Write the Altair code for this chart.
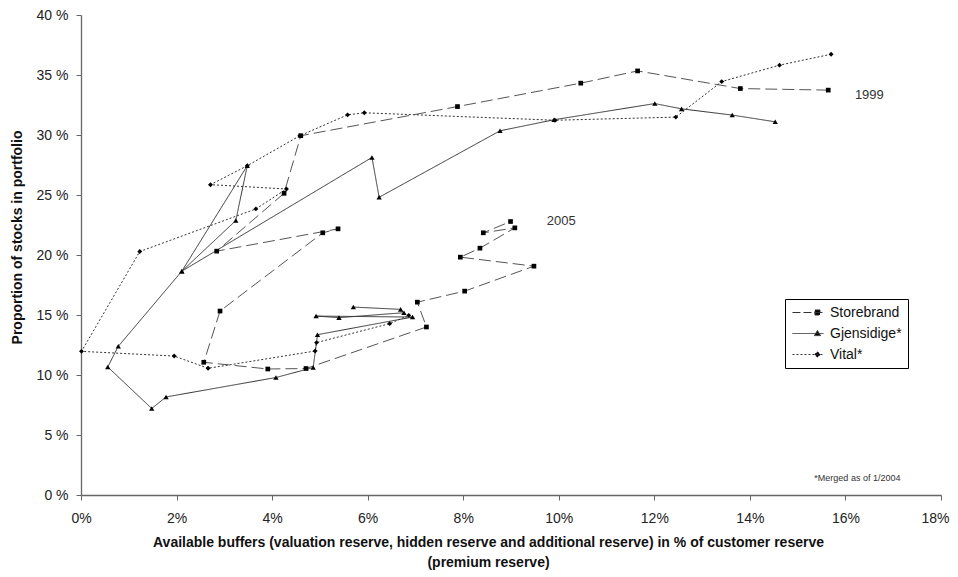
import altair as alt
import pandas as pd

# ---- data (x: buffers %, y: stocks %) ----
series_names = ["Storebrand", "Gjensidige*", "Vital*"]

sb_x = [15.64, 13.80, 11.65, 10.46, 7.88, 4.60, 4.25, 2.84, 5.38, 5.06, 2.91, 2.57,
        3.91, 4.71, 7.23, 7.04, 8.03, 9.48, 7.94, 8.35, 9.08, 8.42, 8.99]
sb_y = [33.74, 33.87, 35.34, 34.32, 32.37, 29.94, 25.14, 20.32, 22.18, 21.85, 15.33, 11.06,
        10.50, 10.54, 14.00, 16.07, 16.99, 19.07, 19.82, 20.57, 22.26, 21.85, 22.79]

gj_x = [14.53, 13.63, 12.57, 12.01, 9.90, 8.77, 6.24, 6.09, 2.11, 3.48, 3.24, 2.11, 0.78,
        0.56, 1.48, 1.78, 4.08, 4.86, 4.95, 6.94, 4.92, 5.40, 6.76, 6.69, 5.70]
gj_y = [31.10, 31.66, 32.18, 32.62, 31.27, 30.35, 24.81, 28.13, 18.65, 27.44, 22.87, 18.65, 12.39,
        10.67, 7.21, 8.17, 9.79, 10.62, 13.36, 14.83, 14.91, 14.78, 15.19, 15.47, 15.66]

vt_x = [15.70, 14.62, 13.41, 12.45, 9.92, 5.93, 5.58, 4.58, 3.48, 2.71, 4.30, 3.66, 1.23, 0.01,
        1.95, 2.66, 4.90, 4.93, 6.46, 6.86]
vt_y = [36.73, 35.82, 34.45, 31.49, 31.23, 31.85, 31.68, 29.94, 27.44, 25.86, 25.50, 23.84, 20.29, 11.97,
        11.58, 10.56, 12.00, 12.70, 14.28, 14.97]

ann_text = ["1999", "2005"]
ann_x = [16.5, 10.05]
ann_y = [33.35, 22.8]

note_text = ["*Merged as of 1/2004"]
note_x = [16.25]
note_y = [1.4]

x_ticks = [0, 2, 4, 6, 8, 10, 12, 14, 16, 18]
y_ticks = [0, 5, 10, 15, 20, 25, 30, 35, 40]

# ---- build table ----
rows = []
for name, xs, ys in [("Storebrand", sb_x, sb_y), ("Gjensidige*", gj_x, gj_y), ("Vital*", vt_x, vt_y)]:
    for i, (xv, yv) in enumerate(zip(xs, ys)):
        rows.append({"series": name, "idx": i, "x": xv, "y": yv})
df = pd.DataFrame(rows)
ann = pd.DataFrame({"x": ann_x, "y": ann_y, "t": ann_text})
note = pd.DataFrame({"x": note_x, "y": note_y, "t": note_text})

FONT = "Liberation Sans"

xenc = alt.X("x:Q", scale=alt.Scale(domain=[0, 18], nice=False, zero=False),
             axis=alt.Axis(values=x_ticks, labelExpr="datum.value + '%'", grid=False,
                           labelFlush=False,
                           labelAlign={"condition": {"test": "datum.value >= 18", "value": "right"},
                                       "value": "center"},
                           labelOffset={"condition": {"test": "datum.value >= 18", "value": 8},
                                        "value": 0},
                           title=["Available buffers (valuation reserve, hidden reserve and additional reserve) in % of customer reserve",
                                  "(premium reserve)"],
                           titleFontWeight="bold", titleFontSize=14, titleLineHeight=20,
                           titlePadding=10, titleX=407, titleColor="#111",
                           labelFontSize=14, labelColor="#222", labelPadding=11,
                           tickSize=5, tickColor="#666", domainColor="#666", labelFont=FONT, titleFont=FONT))
yenc = alt.Y("y:Q", scale=alt.Scale(domain=[0, 40], nice=False, zero=False),
             axis=alt.Axis(values=y_ticks, labelExpr="datum.value + ' %'", grid=False,
                           labelFlush=False,
                           title="Proportion of stocks in portfolio", titleY=222,
                           titleFontWeight="bold", titleFontSize=14, titlePadding=12, titleColor="#111",
                           labelFontSize=14, labelColor="#222", labelPadding=8,
                           tickSize=5, tickColor="#666", domainColor="#666", labelFont=FONT, titleFont=FONT))

base = alt.Chart(df).encode(x=xenc, y=yenc, order=alt.Order("idx:Q"))

styles = {
    "Storebrand": dict(color="#555", strokeDash=[12, 5], shape="square", size=22),
    "Gjensidige*": dict(color="#333", strokeDash=[1, 0], shape="triangle-up", size=28),
    "Vital*": dict(color="#333", strokeDash=[2, 2], shape="diamond", size=24),
}

layers = []
for name in series_names:
    s = styles[name]
    layers.append(base.transform_filter(alt.datum.series == name)
                  .mark_line(color=s["color"], strokeWidth=1, strokeDash=s["strokeDash"]))
for name in series_names:
    s = styles[name]
    layers.append(base.transform_filter(alt.datum.series == name)
                  .mark_point(filled=True, color="black", opacity=1, shape=s["shape"], size=s["size"]))

# legend-only layer (no marks drawn): symbol = short line with marker
legend_paths = [
    "M-0.86,0H3.57M2.35,-0.36H3.07V0.36H2.35Z",
    "M-0.86,0H3.57M2.71,-0.43L3.14,0.3L2.28,0.3Z",
    "M-0.86,0H3.57M2.71,-0.4L3.11,0L2.71,0.4L2.31,0Z",
]
leg = alt.Legend(title=None, orient="none", legendX=704, legendY=284, padding=6,
                 strokeColor="black", fillColor="white", labelFontSize=14, labelFont=FONT,
                 labelColor="#111", labelOffset=24, rowPadding=6, symbolSize=196,
                 symbolStrokeWidth=1, symbolOpacity=1)
legend_layer = alt.Chart(df).transform_filter("false").mark_point(
    filled=True, strokeWidth=1).encode(
    x=alt.X("x:Q"), y=alt.Y("y:Q"),
    shape=alt.Shape("series:N", scale=alt.Scale(domain=series_names, range=legend_paths), legend=leg),
    strokeDash=alt.StrokeDash("series:N", scale=alt.Scale(domain=series_names,
                                                         range=[[8, 3], [1, 0], [2, 2]]), legend=leg),
    stroke=alt.Stroke("series:N", scale=alt.Scale(domain=series_names, range=["#333", "#333", "#333"]),
                      legend=leg),
    fill=alt.Fill("series:N", scale=alt.Scale(domain=series_names, range=["black", "black", "black"]),
                  legend=leg),
)
layers.append(legend_layer)

ann_layer = alt.Chart(ann).mark_text(font=FONT, fontSize=13, color="#333", align="center").encode(
    x="x:Q", y="y:Q", text="t:N")
note_layer = alt.Chart(note).mark_text(font=FONT, fontSize=9, color="#333", align="center").encode(
    x="x:Q", y="y:Q", text="t:N")
layers += [ann_layer, note_layer]

chart = alt.layer(*layers).properties(
    width=860, height=480,
    autosize=alt.AutoSizeParams(type="none"),
    padding={"left": 73, "top": 7, "right": 9, "bottom": 75},
).configure_view(stroke=None).configure_axis(domainWidth=1.3)

chart.save("out.html", embed_options={"renderer": "svg", "actions": False})
